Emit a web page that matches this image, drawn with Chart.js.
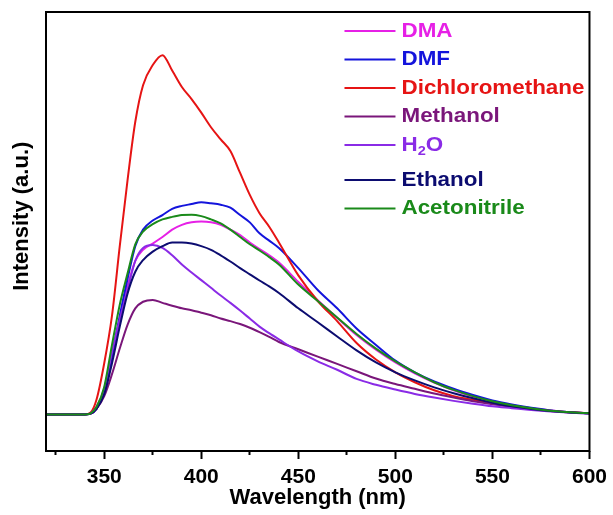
<!DOCTYPE html>
<html>
<head>
<meta charset="utf-8">
<title>Emission spectra in different solvents</title>
<script src="https://cdn.jsdelivr.net/npm/chart.js@4.4.1/dist/chart.umd.min.js"></script>
<style>
    html, body { margin: 0; padding: 0; background: #fff; }
    canvas { display: block; }
</style>
</head>
<body>
<canvas id="myChart" width="613" height="515"></canvas>
<script>
// wavelength grid (nm) shared by every spectrum
const wavelengths = [320, 340, 343, 346, 350, 354, 358, 362, 366, 370,
    375, 380, 385, 390, 395, 400, 405, 410, 415, 420,
    425, 430, 435, 440, 450, 460, 470, 480, 490, 500,
    510, 520, 530, 540, 550, 560, 570, 580, 590, 600];

// intensity (a.u.) for each solvent
const dma = [0, 0, 0.002, 0.015, 0.06, 0.15, 0.26, 0.35, 0.42, 0.45,
    0.467, 0.485, 0.505, 0.518, 0.525, 0.527, 0.525, 0.518, 0.505, 0.49,
    0.47, 0.452, 0.435, 0.415, 0.362, 0.312, 0.264, 0.217, 0.177, 0.142,
    0.112, 0.087, 0.066, 0.049, 0.036, 0.025, 0.017, 0.011, 0.006, 0.003];
const dmf = [0, 0, 0.002, 0.015, 0.06, 0.16, 0.27, 0.37, 0.46, 0.505,
    0.53, 0.545, 0.562, 0.57, 0.575, 0.58, 0.577, 0.573, 0.565, 0.545,
    0.525, 0.495, 0.475, 0.455, 0.4, 0.34, 0.29, 0.235, 0.19, 0.147,
    0.115, 0.09, 0.07, 0.053, 0.038, 0.027, 0.018, 0.011, 0.006, 0.003];
const dichloromethane = [0, 0, 0.005, 0.04, 0.14, 0.27, 0.46, 0.64, 0.8, 0.9,
    0.955, 0.982, 0.94, 0.895, 0.862, 0.825, 0.785, 0.752, 0.72, 0.66,
    0.6, 0.55, 0.513, 0.47, 0.38, 0.31, 0.255, 0.195, 0.15, 0.115,
    0.088, 0.066, 0.05, 0.04, 0.03, 0.021, 0.014, 0.009, 0.006, 0.003];
const methanol = [0, 0, 0.002, 0.015, 0.05, 0.11, 0.18, 0.245, 0.29, 0.308,
    0.313, 0.305, 0.297, 0.29, 0.285, 0.278, 0.271, 0.262, 0.255, 0.247,
    0.237, 0.225, 0.212, 0.198, 0.178, 0.158, 0.138, 0.118, 0.098, 0.083,
    0.07, 0.057, 0.046, 0.036, 0.028, 0.021, 0.015, 0.01, 0.006, 0.003];
const water = [0, 0, 0.003, 0.02, 0.07, 0.17, 0.26, 0.34, 0.42, 0.455,
    0.463, 0.455, 0.435, 0.41, 0.388, 0.367, 0.346, 0.325, 0.305, 0.284,
    0.262, 0.24, 0.222, 0.205, 0.172, 0.145, 0.122, 0.097, 0.081, 0.068,
    0.056, 0.046, 0.037, 0.029, 0.022, 0.017, 0.012, 0.008, 0.005, 0.002];
const ethanol = [0, 0, 0.002, 0.015, 0.055, 0.14, 0.24, 0.33, 0.39, 0.422,
    0.445, 0.46, 0.47, 0.47, 0.467, 0.46, 0.45, 0.435, 0.418, 0.4,
    0.383, 0.366, 0.35, 0.332, 0.29, 0.252, 0.213, 0.175, 0.142, 0.115,
    0.093, 0.074, 0.058, 0.044, 0.032, 0.022, 0.015, 0.009, 0.005, 0.003];
const acetonitrile = [0, 0, 0.003, 0.02, 0.075, 0.19, 0.3, 0.385, 0.465, 0.5,
    0.52, 0.533, 0.54, 0.545, 0.546, 0.542, 0.533, 0.522, 0.505, 0.485,
    0.465, 0.448, 0.43, 0.41, 0.355, 0.31, 0.265, 0.22, 0.18, 0.145,
    0.115, 0.088, 0.067, 0.05, 0.036, 0.025, 0.017, 0.01, 0.006, 0.003];

const labels = ['DMA', 'DMF', 'Dichloromethane', 'Methanol', 'H₂O', 'Ethanol', 'Acetonitrile'];
const series = [dma, dmf, dichloromethane, methanol, water, ethanol, acetonitrile];
const colors = ['#E620E6', '#1414DC', '#E61414', '#7A167A', '#8A2BE6', '#0C0C70', '#1A8A1A'];

// x axis ticks every 25 nm, labelled every 50 nm
const xTicks = [325, 350, 375, 400, 425, 450, 475, 500, 525, 550, 575, 600];

const fontFamily = '"Liberation Sans", Arial, sans-serif';

document.addEventListener('DOMContentLoaded', function () {

    // box around the plot area
    const framePlugin = {
        id: 'frame',
        afterDraw: function (chart) {
            const c = chart.ctx;
            const a = chart.chartArea;
            c.save();
            c.strokeStyle = '#000';
            c.lineWidth = 2;
            c.strokeRect(a.left, a.top, a.right - a.left, a.bottom - a.top);
            c.restore();
        }
    };

    // legend drawn inside the plot, top right, text in the line colour
    const legendPlugin = {
        id: 'insideLegend',
        afterDraw: function (chart) {
            const c = chart.ctx;
            const a = chart.chartArea;
            const x0 = a.right - 245;
            let y = a.top + 19;
            c.save();
            c.textBaseline = 'middle';
            chart.data.datasets.forEach(function (ds) {
                c.strokeStyle = ds.borderColor;
                c.lineWidth = 2;
                c.beginPath();
                c.moveTo(x0, y);
                c.lineTo(x0 + 51, y);
                c.stroke();

                c.fillStyle = ds.borderColor;
                c.save();
                c.translate(x0 + 57, y);
                c.scale(1.12, 1);
                // split out subscript digits
                const parts = ds.label.split(/([₀-₉])/);
                let tx = 0;
                parts.forEach(function (p) {
                    if (!p) return;
                    if (/[₀-₉]/.test(p)) {
                        const digit = String.fromCharCode(p.charCodeAt(0) - 0x2080 + 48);
                        c.font = 'bold 13px ' + fontFamily;
                        c.fillText(digit, tx, 6);
                        tx += c.measureText(digit).width;
                    } else {
                        c.font = 'bold 20px ' + fontFamily;
                        c.fillText(p, tx, 0);
                        tx += c.measureText(p).width;
                    }
                });
                c.restore();

                y += /[₀-₉]/.test(ds.label) ? 35 : 28.5;
            });
            c.restore();
        }
    };

    const datasets = labels.map(function (name, i) {
        return {
            label: name,
            data: wavelengths.map(function (w, j) { return { x: w, y: series[i][j] }; }),
            borderColor: colors[i],
            backgroundColor: colors[i],
            order: labels.length - i
        };
    });

    const ctx = document.getElementById('myChart').getContext('2d');
    const chart = new Chart(ctx, {
        type: 'line',
        data: { datasets: datasets },
        options: {
            responsive: false,
            animation: false,
            layout: { padding: { top: 12, right: 22, left: 0, bottom: 0 } },
            elements: {
                point: { radius: 0 },
                line: { borderWidth: 2, cubicInterpolationMode: 'monotone' }
            },
            plugins: {
                legend: { display: false },
                tooltip: { enabled: false }
            },
            scales: {
                x: {
                    type: 'linear',
                    min: 320,
                    max: 600,
                    afterBuildTicks: function (scale) {
                        scale.ticks = xTicks.map(function (v) { return { value: v }; });
                    },
                    afterFit: function (scale) { scale.height = 64; },
                    border: { display: false },
                    grid: {
                        drawOnChartArea: false,
                        drawTicks: true,
                        tickLength: 8,
                        tickWidth: 2,
                        tickColor: '#000',
                        // minor ticks come out shorter
                        tickBorderDash: function (c) {
                            return c.tick && c.tick.value % 50 !== 0 ? [4, 30] : [];
                        }
                    },
                    ticks: {
                        color: '#000',
                        padding: 6,
                        maxRotation: 0,
                        autoSkip: false,
                        font: { family: fontFamily, size: 21, weight: 'bold' },
                        callback: function (v) { return v % 50 === 0 ? v : ''; }
                    },
                    title: {
                        display: true,
                        text: 'Wavelength (nm)',
                        color: '#000',
                        font: { family: fontFamily, size: 22, weight: 'bold' },
                        padding: { top: 0, bottom: 4 }
                    }
                },
                y: {
                    min: -0.1,
                    max: 1.1,
                    afterFit: function (scale) { scale.width = 46; },
                    border: { display: false },
                    grid: { display: false },
                    ticks: { display: false },
                    title: {
                        display: true,
                        text: '     Intensity (a.u.)',
                        color: '#000',
                        font: { family: fontFamily, size: 22, weight: 'bold' },
                        padding: { top: 9, bottom: 0 }
                    }
                }
            }
        },
        plugins: [framePlugin, legendPlugin]
    });

});
</script>
</body>
</html>
